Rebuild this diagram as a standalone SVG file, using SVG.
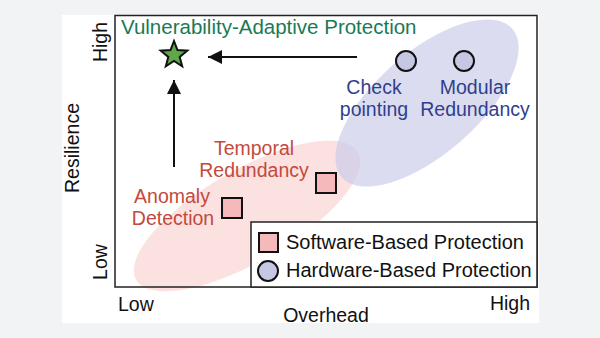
<svg xmlns="http://www.w3.org/2000/svg" width="600" height="338" viewBox="0 0 600 338">
<defs>
<style>
text{font-family:"Liberation Sans",Arial,sans-serif;}
.ax{font-size:19.5px;fill:#111;}
.red{font-size:19.5px;fill:#c4493c;text-anchor:middle;}
.blue{font-size:19.5px;fill:#2e3f8f;text-anchor:middle;}
.leg{font-size:20px;fill:#111;}
.sq{fill:#f5b9bb;stroke:#111;stroke-width:2;}
.ci{fill:#c6c8e3;stroke:#111;stroke-width:2;}
.arr{stroke:#111;stroke-width:2;fill:none;marker-end:url(#ah);}
</style>
<marker id="ah" viewBox="0 0 10 10" refX="10" refY="5" markerWidth="7.5" markerHeight="7" markerUnits="strokeWidth" orient="auto">
<path d="M0,0 L10,5 L0,10 z" fill="#111"/>
</marker>
</defs>
<rect width="600" height="338" fill="#f2f3f5"/>
<rect x="62" y="15" width="477" height="308" fill="#ffffff"/>
<g id="regions">
<ellipse cx="247" cy="216" rx="128" ry="46" transform="rotate(-30 247 216)" fill="#f9c9c9" opacity="0.55"/>
<ellipse cx="427" cy="103" rx="113" ry="51" transform="rotate(-41 427 103)" fill="#c8cae8" opacity="0.65"/>
</g>
<rect id="plot" x="115" y="15.5" width="422" height="271.5" fill="none" stroke="#222" stroke-width="1.5"/>
<g id="axes">
<text class="ax" transform="translate(107 42) rotate(-90)" text-anchor="middle">High</text>
<text class="ax" transform="translate(79 148) rotate(-90)" text-anchor="middle">Resilience</text>
<text class="ax" transform="translate(107 262) rotate(-90)" text-anchor="middle">Low</text>
<text class="ax" x="118" y="311">Low</text>
<text class="ax" x="530" y="310" text-anchor="end">High</text>
<text class="ax" x="326" y="322" text-anchor="middle">Overhead</text>
</g>
<g id="connectors">
<line class="arr" x1="357" y1="57" x2="208" y2="57"/>
<line class="arr" x1="174" y1="167" x2="174" y2="80"/>
</g>
<g id="vap">
<text x="121" y="34" font-size="20.5" fill="#1a7a55">Vulnerability-Adaptive Protection</text>
<polygon points="174,41 177.5,50.1 187.3,50.7 179.7,56.9 182.2,66.3 174,61 165.8,66.3 168.3,56.9 160.7,50.7 170.5,50.1" fill="#5ea84a" stroke="#111" stroke-width="2" stroke-linejoin="miter"/>
</g>
<g id="checkpointing">
<circle class="ci" cx="406" cy="61" r="10"/>
<text class="blue" x="374" y="94">Check</text>
<text class="blue" x="374" y="116">pointing</text>
</g>
<g id="modular">
<circle class="ci" cx="464" cy="61" r="10"/>
<text class="blue" x="475" y="94">Modular</text>
<text class="blue" x="475" y="116">Redundancy</text>
</g>
<g id="temporal">
<rect class="sq" x="316" y="173" width="20" height="20"/>
<text class="red" x="254" y="155">Temporal</text>
<text class="red" x="254" y="177">Redundancy</text>
</g>
<g id="anomaly">
<rect class="sq" x="222" y="198" width="20" height="20"/>
<text class="red" x="172" y="203">Anomaly</text>
<text class="red" x="173" y="225">Detection</text>
</g>
<g id="legend">
<rect x="251" y="222" width="286" height="65" fill="#ffffff" stroke="#222" stroke-width="1.5"/>
<rect class="sq" x="259" y="233" width="19" height="19"/>
<text class="leg" x="286" y="249">Software-Based Protection</text>
<circle class="ci" cx="268" cy="271" r="10"/>
<text class="leg" x="286" y="277">Hardware-Based Protection</text>
</g>
</svg>
